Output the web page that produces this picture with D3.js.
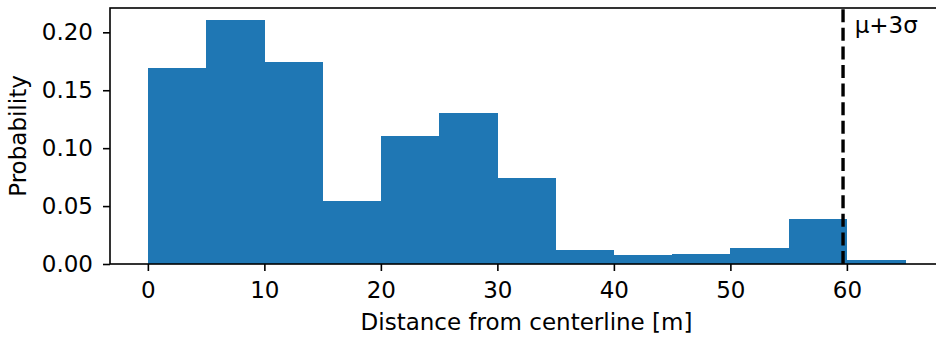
<!DOCTYPE html>
<html>
<head>
<meta charset="utf-8">
<script src="https://cdn.jsdelivr.net/npm/d3@7"></script>
<style>
  body { margin: 0; background: #fff; }
  text { font-family: "DejaVu Sans", sans-serif; fill: #000; }
</style>
</head>
<body>
<div id="chart"></div>
<script>
// histogram of distances, bins of 5 m
const binEdges = [0, 5, 10, 15, 20, 25, 30, 35, 40, 45, 50, 55, 60, 65];
const probabilities = [0.169, 0.2105, 0.174, 0.0545, 0.1107, 0.1305, 0.074, 0.0123, 0.0077, 0.0089, 0.0138, 0.0387, 0.0037];
const xTicks = [0, 10, 20, 30, 40, 50, 60];
const yTicks = [0.00, 0.05, 0.10, 0.15, 0.20];
const threshold = 59.67;
const thresholdLabel = 'μ+3σ';

const FONT = 23;
const W = 936, H = 338;
const margin = {top: 8, right: -7, bottom: 74, left: 110};
const width = W - margin.left - margin.right;
const height = H - margin.top - margin.bottom;

const svg = d3.select('#chart')
  .append('svg')
  .attr('width', W)
  .attr('height', H);

const g = svg.append('g')
  .attr('transform', 'translate(' + margin.left + ',' + margin.top + ')');

const x = d3.scaleLinear()
  .domain([-3.25, 68.25])
  .range([0, width]);

const y = d3.scaleLinear()
  .domain([0, 0.221])
  .range([height, 0]);

const bins = probabilities.map((p, i) => ({x0: binEdges[i], x1: binEdges[i + 1], p}));

g.selectAll('rect.bar')
  .data(bins)
  .enter()
  .append('rect')
  .attr('class', 'bar')
  .attr('x', d => x(d.x0))
  .attr('width', d => x(d.x1) - x(d.x0) + 0.5)
  .attr('y', d => y(d.p))
  .attr('height', d => y(0) - y(d.p))
  .attr('shape-rendering', 'crispEdges')
  .attr('fill', '#1f77b4');

// threshold line, drawn bottom to top like axvline
g.append('line')
  .attr('x1', x(threshold))
  .attr('x2', x(threshold))
  .attr('y1', height)
  .attr('y2', 0)
  .attr('stroke', '#000')
  .attr('stroke-width', 3.4)
  .attr('stroke-dasharray', '13,5.6');

g.append('text')
  .attr('x', x(threshold + 1))
  .attr('y', y(0.2) + 1)
  .attr('font-size', FONT)
  .text(thresholdLabel);

const xAxis = g.append('g')
  .attr('transform', 'translate(0,' + height + ')')
  .call(d3.axisBottom(x).tickValues(xTicks).tickSize(7).tickPadding(11).tickFormat(d3.format('d')));

const yAxis = g.append('g')
  .call(d3.axisLeft(y).tickValues(yTicks).tickSize(7).tickPadding(10).tickFormat(d3.format('.2f')));

[xAxis, yAxis].forEach(a => {
  a.select('.domain').remove();
  a.selectAll('.tick line').attr('stroke', '#000').attr('stroke-width', 1.6);
  a.selectAll('.tick text').attr('font-size', FONT).attr('font-family', 'DejaVu Sans').attr('fill', '#000');
});

// spines
g.append('rect')
  .attr('x', 0)
  .attr('y', 0)
  .attr('width', width)
  .attr('height', height)
  .attr('fill', 'none')
  .attr('stroke', '#000')
  .attr('stroke-width', 1.6);

g.append('text')
  .attr('x', width / 2)
  .attr('y', height + 66)
  .attr('text-anchor', 'middle')
  .attr('font-size', FONT)
  .text('Distance from centerline [m]');

g.append('text')
  .attr('transform', 'translate(' + (-84) + ',' + (height / 2) + ') rotate(-90)')
  .attr('text-anchor', 'middle')
  .attr('font-size', FONT)
  .text('Probability');
</script>
</body>
</html>
